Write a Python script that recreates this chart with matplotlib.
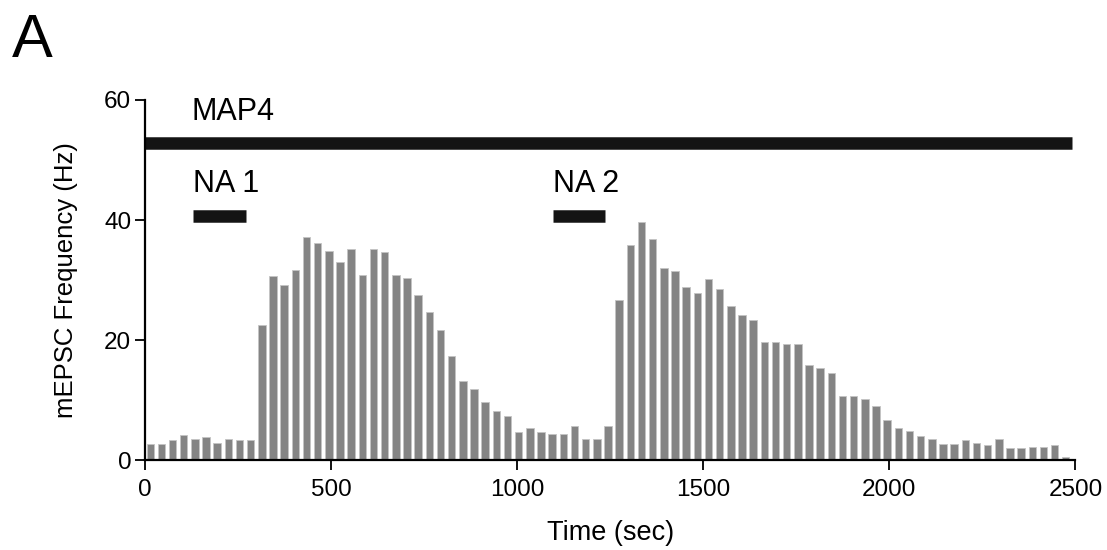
import matplotlib.pyplot as plt
import numpy as np

plt.rcParams['font.family'] = ['Liberation Sans', 'DejaVu Sans']

# mEPSC frequency in 30 s bins (Hz)
bin_width = 30
freq = [2.6, 2.6, 3.4, 4.1, 3.5, 3.9, 2.8, 3.5, 3.3, 3.4,
        22.5, 30.6, 29.1, 31.7, 37.1, 36.1, 34.8, 33.0, 35.1, 30.8,
        35.1, 34.7, 30.8, 30.4, 27.5, 24.6, 21.6, 17.3, 13.1, 11.9,
        9.6, 8.2, 7.4, 4.7, 5.3, 4.7, 4.3, 4.3, 5.6, 3.5,
        3.5, 5.6, 26.7, 35.8, 39.6, 36.9, 32.0, 31.5, 28.8, 27.8,
        30.2, 28.5, 25.7, 24.1, 23.4, 19.7, 19.7, 19.3, 19.3, 15.8,
        15.4, 14.5, 10.7, 10.7, 10.1, 9.0, 6.7, 5.3, 4.9, 4.0,
        3.5, 2.7, 2.7, 3.3, 2.9, 2.5, 3.5, 2.0, 2.0, 2.2,
        2.2, 2.5, 0.5]

# drug application periods: (label, start s, end s, bar level Hz)
drugs = [("MAP4", 0, 2490, 52.8),
         ("NA 1", 129, 271, 40.7),
         ("NA 2", 1095, 1237, 40.7)]

fig = plt.figure(figsize=(11.07, 5.5), dpi=100)
ax = fig.add_axes([0.131, 0.1636, 0.8405, 0.6546])

t = np.arange(len(freq)) * bin_width + 14
ax.bar(t, freq, width=20, color='#848484', edgecolor='#c4c4c4', linewidth=0.6)

for label, start, end, level in drugs:
    ax.hlines(level, start, end, color='#141414', linewidth=9, capstyle='butt')
    ax.text(start if start > 0 else 124, level + 3.9, label,
            fontsize=22, ha='left', va='baseline')

ax.set_xlim(0, 2500)
ax.set_ylim(0, 60)
ax.set_xticks([0, 500, 1000, 1500, 2000, 2500])
ax.set_yticks([0, 20, 40, 60])
ax.spines['top'].set_visible(False)
ax.spines['right'].set_visible(False)
for s in ('left', 'bottom'):
    ax.spines[s].set_linewidth(1.6)
ax.tick_params(width=1.4, length=7, labelsize=17.5, color='#111111')
ax.tick_params(axis='x', pad=7)
ax.tick_params(axis='y', pad=3)

ax.set_xlabel('Time (sec)', fontsize=19.5, labelpad=13)
ax.set_ylabel('mEPSC Frequency (Hz)', fontsize=18.5, labelpad=19)

fig.text(12 / 1107, 1 - 57 / 550, 'A', fontsize=44, ha='left', va='baseline')

fig.savefig('out.png', dpi=100, facecolor='white')
